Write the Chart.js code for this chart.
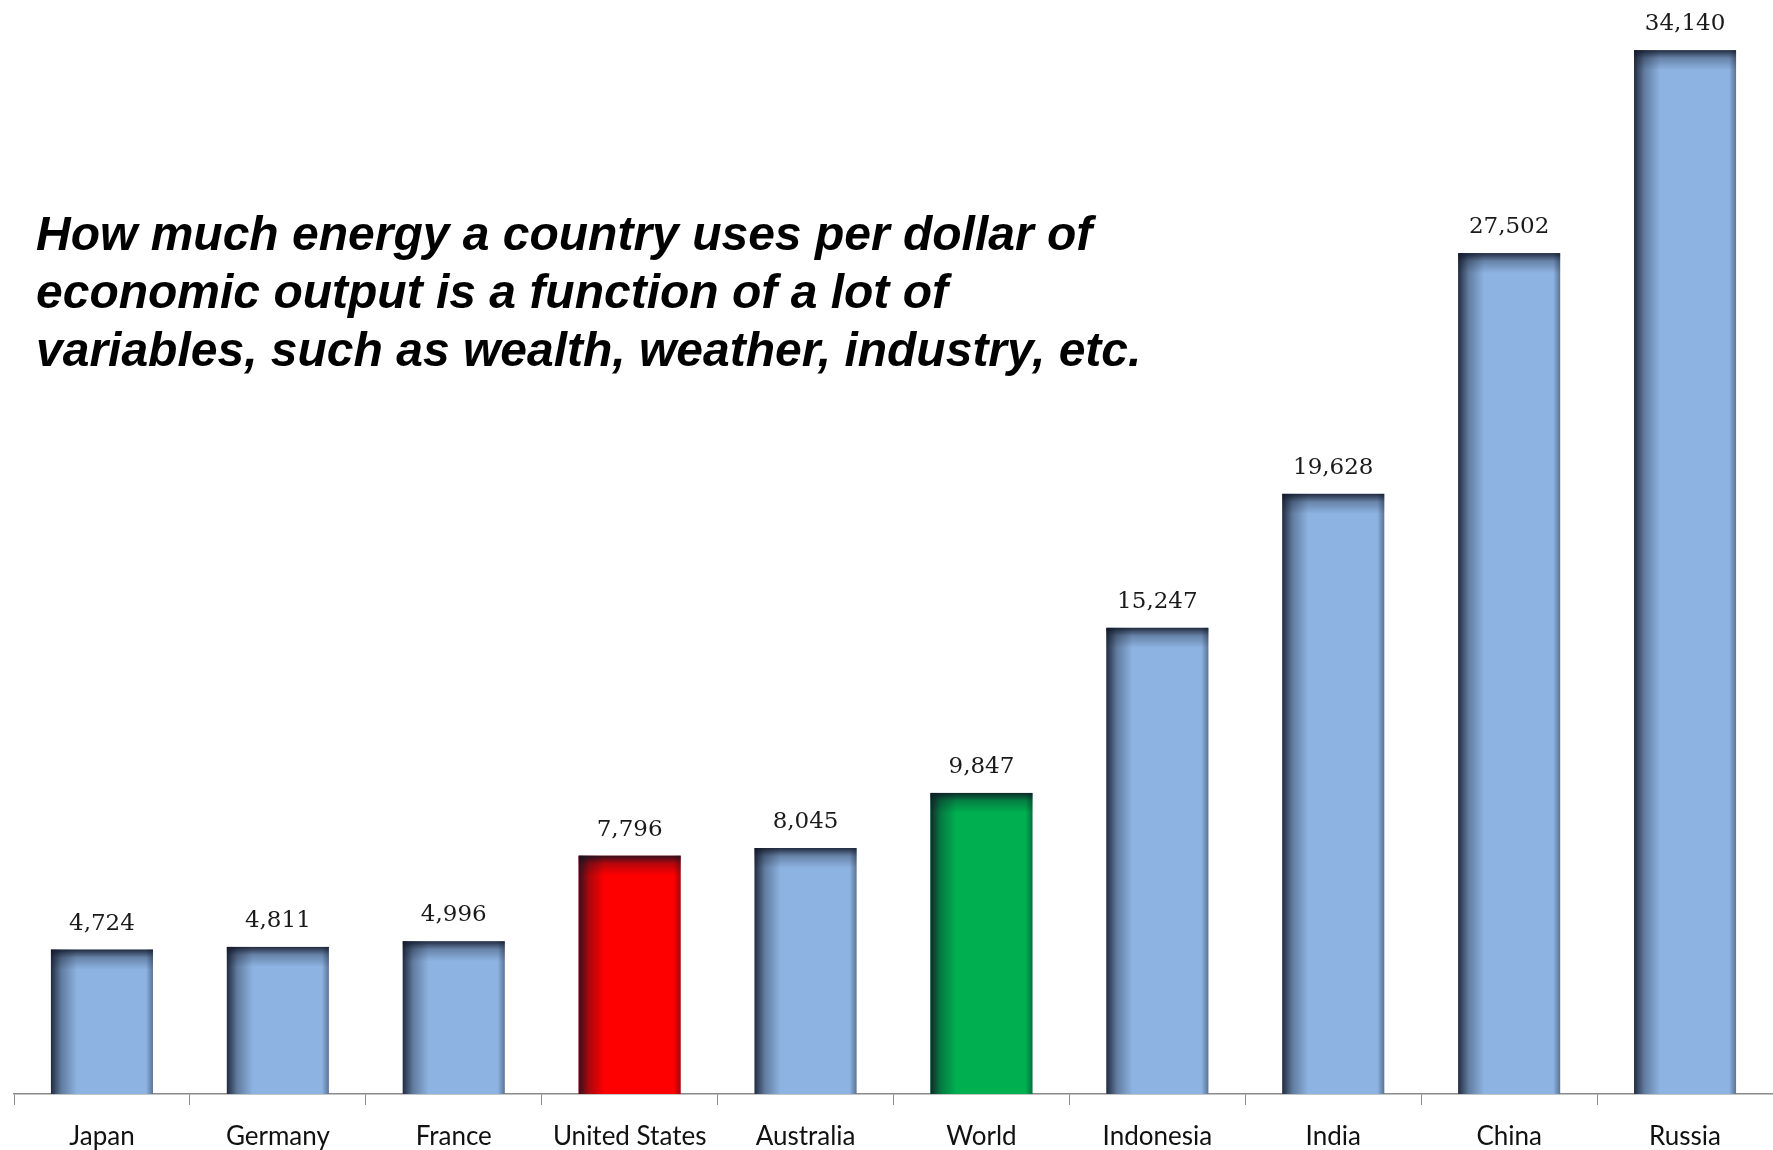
<!DOCTYPE html>
<html>
<head>
<meta charset="utf-8">
<script src="https://cdn.jsdelivr.net/npm/chart.js@4"></script>
<style>
  body { margin: 0; background: #fff; }
  #wrap { position: relative; width: 1773px; height: 1150px; }
  #note {
    position: absolute; left: 36px; top: 205px;
    font: italic bold 48px "Liberation Sans", Arial, sans-serif;
    line-height: 58px; color: #000; white-space: nowrap;
  }
</style>
</head>
<body>
<div id="wrap">
  <canvas id="chart"></canvas>
  <div id="note">How much energy a country uses per dollar of<br>economic output is a function of a lot of<br>variables, such as wealth, weather, industry, etc.</div>
</div>
<script>
// categories and values
var countries = ['Japan', 'Germany', 'France', 'United States', 'Australia', 'World', 'Indonesia', 'India', 'China', 'Russia'];
var energyPerGdp = [4724, 4811, 4996, 7796, 8045, 9847, 15247, 19628, 27502, 34140];
var barColors = ['#8db3e2', '#8db3e2', '#8db3e2', '#ff0000', '#8db3e2', '#00b050', '#8db3e2', '#8db3e2', '#8db3e2', '#8db3e2'];

var canvas = document.getElementById('chart');

// dark inner edges on the bars, like the old office bevel
var bevel = {
  id: 'bevel',
  afterDatasetsDraw: function (chart) {
    var ctx = chart.ctx;
    chart.getDatasetMeta(0).data.forEach(function (bar) {
      var p = bar.getProps(['x', 'y', 'width', 'base'], true);
      var l = p.x - p.width / 2, r = p.x + p.width / 2;
      var h = p.base - p.y;
      ctx.save();
      var g = ctx.createLinearGradient(l, 0, l + 26, 0);
      g.addColorStop(0, 'rgba(15,20,35,0.85)');
      g.addColorStop(0.4, 'rgba(15,20,35,0.35)');
      g.addColorStop(1, 'rgba(15,20,35,0)');
      ctx.fillStyle = g;
      ctx.fillRect(l, p.y, 26, h);
      g = ctx.createLinearGradient(0, p.y, 0, p.y + 20);
      g.addColorStop(0, 'rgba(15,20,35,0.85)');
      g.addColorStop(0.4, 'rgba(15,20,35,0.3)');
      g.addColorStop(1, 'rgba(15,20,35,0)');
      ctx.fillStyle = g;
      ctx.fillRect(l, p.y, p.width, 20);
      g = ctx.createLinearGradient(r - 7, 0, r, 0);
      g.addColorStop(0, 'rgba(15,20,35,0)');
      g.addColorStop(1, 'rgba(15,20,35,0.4)');
      ctx.fillStyle = g;
      ctx.fillRect(r - 7, p.y, 7, h);
      ctx.restore();
    });
  }
};

// value labels above each bar
var valueLabels = {
  id: 'valueLabels',
  afterDatasetsDraw: function (chart) {
    var ctx = chart.ctx;
    var ds = chart.data.datasets[0];
    ctx.save();
    ctx.font = '23px "DejaVu Serif", "Liberation Serif", serif';
    ctx.fillStyle = '#1a1a1a';
    ctx.textAlign = 'center';
    ctx.textBaseline = 'alphabetic';
    chart.getDatasetMeta(0).data.forEach(function (bar, i) {
      ctx.fillText(ds.data[i].toLocaleString('en-US'), bar.x, bar.y - 20);
    });
    ctx.restore();
  }
};

new Chart(canvas, {
  type: 'bar',
  data: {
    labels: countries,
    datasets: [{
      data: energyPerGdp,
      backgroundColor: barColors,
      barPercentage: 0.58,
      categoryPercentage: 1
    }]
  },
  options: {
    responsive: true,
    maintainAspectRatio: false,
    animation: false,
    layout: { padding: { left: 14, right: 0, top: 0, bottom: 0 } },
    scales: {
      x: {
        grid: {
          offset: true,
          drawOnChartArea: false,
          drawTicks: true,
          tickLength: 11,
          color: '#8a8a8a'
        },
        border: { color: '#8a8a8a', width: 1.5 },
        ticks: {
          color: '#111',
          font: { family: 'Lato, "Open Sans", sans-serif', size: 26 },
          padding: 16,
          maxRotation: 0
        },
        afterFit: function (scale) { scale.height = 56; }
      },
      y: {
        display: false,
        min: 0,
        max: 35780
      }
    },
    plugins: {
      legend: { display: false },
      tooltip: { enabled: false }
    }
  },
  plugins: [bevel, valueLabels]
});
</script>
</body>
</html>
